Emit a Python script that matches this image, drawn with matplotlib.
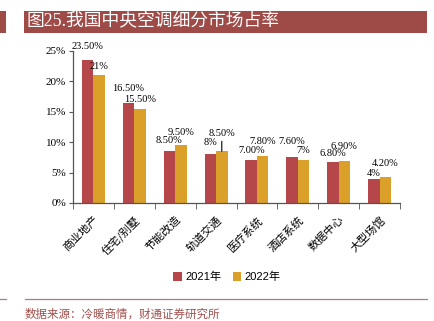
import matplotlib
matplotlib.use("Agg")
import matplotlib.pyplot as plt
from matplotlib.patches import Rectangle
from matplotlib.lines import Line2D
import numpy as np

categories = ["商业地产", "住宅/别墅", "节能改造", "轨道交通", "医疗系统", "酒店系统", "数据中心", "大型场馆"]
share_2021 = [23.5, 16.5, 8.5, 8.0, 7.0, 7.6, 6.8, 4.0]
share_2022 = [21.0, 15.5, 9.5, 8.5, 7.8, 7.0, 6.9, 4.2]
labels_2021 = ["23.50%", "16.50%", "8.50%", "8%", "7.00%", "7.60%", "6.80%", "4%"]
labels_2022 = ["21%", "15.50%", "9.50%", "8.50%", "7.80%", "7%", "6.90%", "4.20%"]
series_names = ["2021年", "2022年"]

# label offsets (pixels above bar top) – styling only
off_2021 = [14, 14, 11, 12, 10, 15, 8, 5]
off_2022 = [9, 9, 13, 18, 14, 10, 15, 14]

RED = "#B5474A"
GOLD = "#DBA02A"
TITLE_BG = "#9E4B48"
SERIF = ["Liberation Serif", "DejaVu Serif"]
CJK = ["Noto Sans CJK SC", "DejaVu Sans"]

W, H = 434, 321
fig = plt.figure(figsize=(W / 100, H / 100), dpi=100)

def fx(px):
    return px / W

def fy(py):
    return 1 - py / H

# title bar
fig.patches.append(Rectangle((fx(0), fy(33)), fx(6), (33 - 11) / H, transform=fig.transFigure,
                             facecolor=TITLE_BG, edgecolor="none"))
fig.patches.append(Rectangle((fx(24), fy(33)), fx(427 - 24), (33 - 11) / H, transform=fig.transFigure,
                             facecolor=TITLE_BG, edgecolor="none"))
fig.text(fx(27), fy(22), "图25.我国中央空调细分市场占率", color="white", fontsize=12.8,
         family=["Liberation Serif", "Noto Sans CJK SC"], va="center", ha="left")

# footer
fig.lines.append(Line2D([fx(0), fx(6)], [fy(299), fy(299)], transform=fig.transFigure,
                        color="#B57A78", lw=0.9))
fig.lines.append(Line2D([fx(25), fx(427)], [fy(299), fy(299)], transform=fig.transFigure,
                        color="#B57A78", lw=0.9))
fig.text(fx(25), fy(314), "数据来源：冷暖商情，财通证券研究所", color="#A0504D", fontsize=8.3,
         family=CJK, va="center", ha="left")

ax = fig.add_axes([fx(73), fy(203), fx(400 - 73), (203 - 51) / H])
x = np.arange(len(categories))
bw = 0.28
b1 = ax.bar(x - bw / 2, share_2021, bw, color=RED, label=series_names[0])
b2 = ax.bar(x + bw / 2, share_2022, bw, color=GOLD, label=series_names[1])

ax.set_xlim(-0.5, len(categories) - 0.5)
ax.set_ylim(0, 25)
ax.set_yticks(np.arange(0, 26, 5))
ax.set_yticklabels([f"{v}%" for v in range(0, 26, 5)], family=SERIF, fontsize=8)
ax.set_xticks(x)
ax.set_xticklabels(categories, family=CJK, fontsize=8, rotation=45, ha="right",
                   rotation_mode="anchor")
ax.tick_params(axis="x", length=0, pad=8)
ax.set_xticks(np.arange(-0.5, len(categories), 1), minor=True)
ax.tick_params(axis="x", which="minor", length=4, direction="out", color="#555555")
ax.tick_params(axis="y", length=3, direction="out", color="#555555", pad=2)
for s in ["top", "right"]:
    ax.spines[s].set_visible(False)
for s in ["left", "bottom"]:
    ax.spines[s].set_color("#555555")
    ax.spines[s].set_linewidth(0.9)

for i in range(len(categories)):
    ax.annotate(labels_2021[i], (x[i] - bw / 2, share_2021[i]), xytext=(0, off_2021[i]),
                textcoords="offset pixels", ha="center", va="center", family=SERIF, fontsize=7.5)
    ax.annotate(labels_2022[i], (x[i] + bw / 2, share_2022[i]), xytext=(0, off_2022[i]),
                textcoords="offset pixels", ha="center", va="center", family=SERIF, fontsize=7.5)
# leader line for crowded label
ax.annotate("", (x[3] + bw / 2, share_2022[3]), xytext=(0, 10), textcoords="offset pixels",
            arrowprops=dict(arrowstyle="-", color="black", lw=0.8, shrinkA=0, shrinkB=0))

leg = fig.legend(handles=[b1, b2], labels=series_names, loc="center", bbox_to_anchor=(fx(227), fy(277)),
                 ncol=2, frameon=False, prop={"family": ["Liberation Sans", "Noto Sans CJK SC"], "size": 8},
                 handlelength=0.8, handleheight=0.8, handletextpad=0.3, columnspacing=1.0)

fig.savefig("out.png", dpi=100)
